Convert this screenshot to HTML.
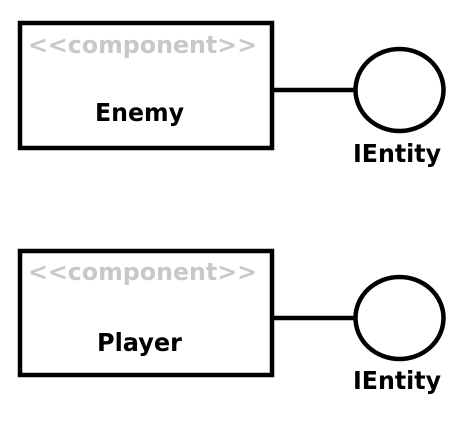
<!DOCTYPE html>
<html><head><style>html,body{margin:0;padding:0;background:#fff;width:469px;height:441px;overflow:hidden}</style></head>
<body>
<svg width="469" height="441" xmlns="http://www.w3.org/2000/svg" font-family="'DejaVu Sans', 'Liberation Sans', sans-serif" font-weight="bold">
<g fill="none" stroke="#000" stroke-width="4.5">
<rect x="20" y="23" width="252" height="125"/>
<line x1="272" y1="90" x2="355" y2="90"/>
<ellipse cx="399.5" cy="90" rx="44" ry="41"/>
<rect x="20" y="251" width="252" height="124"/>
<line x1="272" y1="318" x2="355" y2="318"/>
<ellipse cx="399.5" cy="318" rx="44" ry="41"/>
</g>
<text x="28" y="53" font-size="24" fill="#c8c8c8" textLength="229" lengthAdjust="spacingAndGlyphs">&lt;&lt;component&gt;&gt;</text>
<text x="95" y="121" font-size="25" fill="#000" textLength="89" lengthAdjust="spacingAndGlyphs">Enemy</text>
<text x="353" y="162" font-size="25" fill="#000" textLength="88" lengthAdjust="spacingAndGlyphs">IEntity</text>
<text x="28" y="280" font-size="24" fill="#c8c8c8" textLength="229" lengthAdjust="spacingAndGlyphs">&lt;&lt;component&gt;&gt;</text>
<text x="97" y="351" font-size="25" fill="#000" textLength="85" lengthAdjust="spacingAndGlyphs">Player</text>
<text x="353" y="389" font-size="25" fill="#000" textLength="88" lengthAdjust="spacingAndGlyphs">IEntity</text>
</svg>
</body></html>
